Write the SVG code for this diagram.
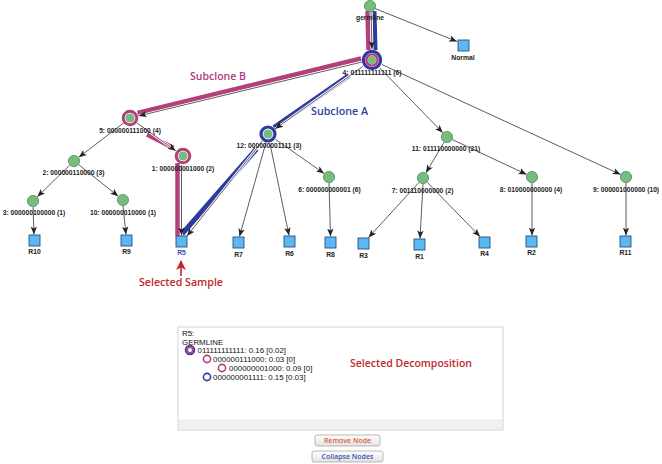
<svg xmlns="http://www.w3.org/2000/svg" width="662" height="464" viewBox="0 0 662 464">
<defs>
<marker id="arr" markerUnits="userSpaceOnUse" markerWidth="8" markerHeight="8" viewBox="0 0 8 8" refX="8" refY="4" orient="auto">
<path d="M0,0.8 L8,4 L0,7.2 L2,4 z" fill="#222"/>
</marker>
<marker id="redarr" markerUnits="userSpaceOnUse" markerWidth="10" markerHeight="10" viewBox="0 0 10 10" refX="9" refY="5" orient="auto">
<path d="M0,0 L10,5 L0,10 L2.5,5 z" fill="#c0282e"/>
</marker>
<linearGradient id="bg" x1="0" y1="0" x2="0" y2="1">
<stop offset="0" stop-color="#ffffff"/><stop offset="1" stop-color="#e2e2e2"/>
</linearGradient>
</defs>
<style>
.e{stroke:#333;stroke-width:0.8;fill:none;marker-end:url(#arr)}
.h{stroke:#fff;stroke-width:2.6;fill:none}
.bm{stroke:#b3407a;stroke-width:4.5;fill:none;stroke-linecap:butt}
.bb{stroke:#2e3a9e;stroke-width:5;fill:none;stroke-linecap:butt}
.n{fill:#74bd7e;stroke:#4f8d5a;stroke-width:0.8}
.s{fill:#5cb8f5;stroke:#2a4f78;stroke-width:0.9}
.lb{font-family:"Liberation Sans",Arial,sans-serif;font-weight:bold;font-size:6.7px;fill:#222;text-anchor:middle}
.sl{font-family:"Liberation Sans",Arial,sans-serif;font-weight:bold;font-size:6.8px;fill:#222;text-anchor:middle}
.rm{fill:none;stroke:#b3407a;stroke-width:3}
.rb{fill:none;stroke:#2e3a9e;stroke-width:3.2}
.pt{font-family:"Liberation Sans",Arial,sans-serif;font-size:7.9px;fill:#111}
.ann{font-family:"Open Sans","Liberation Sans",Arial,sans-serif;font-weight:600;font-size:11.5px}
.btn{fill:url(#bg);stroke:#a8a8a8;stroke-width:0.8}
.bt{font-family:"Open Sans","Liberation Sans",Arial,sans-serif;font-weight:600;font-size:7px;text-anchor:middle}
</style>

<g id="connectors">
<line class="bm" x1="367.5" y1="11" x2="368.5" y2="50"/>
<line class="bb" x1="374.5" y1="11" x2="375.5" y2="50" style="stroke-width:4"/>
<line class="bm" x1="361" y1="58.5" x2="137.5" y2="113"/>
<line class="bb" x1="349" y1="75.5" x2="274" y2="127.5"/>
<line class="bm" x1="147" y1="134.5" x2="173.5" y2="148"/>
<line class="bm" x1="177.5" y1="163" x2="177.5" y2="236"/>
<line class="bb" x1="256.5" y1="149" x2="182" y2="234"/>
<line class="h" x1="371" y1="12" x2="372" y2="49"/>
<line class="h" x1="362" y1="62" x2="138.7" y2="115.9"/>
<line class="h" x1="363" y1="66.4" x2="275.3" y2="128.8"/>
<line class="h" x1="136.5" y1="122.7" x2="175.7" y2="150.8"/>
<line class="h" x1="181.5" y1="165" x2="181.5" y2="235.5"/>
<line class="h" x1="262.4" y1="141" x2="187" y2="236"/>
<line class="e" x1="375" y1="8.5" x2="457" y2="41.5"/>
<line class="e" x1="371" y1="12" x2="372" y2="49"/>
<line class="e" x1="362" y1="62" x2="138.7" y2="115.9"/>
<line class="e" x1="363" y1="66.4" x2="275.3" y2="128.8"/>
<line class="e" x1="379.7" y1="67.9" x2="442.8" y2="132.7"/>
<line class="e" x1="382" y1="64.6" x2="620.6" y2="174.5"/>
<line class="e" x1="123.7" y1="122.9" x2="78.8" y2="157.3"/>
<line class="e" x1="136.5" y1="122.7" x2="175.7" y2="150.8"/>
<line class="e" x1="69.7" y1="165.2" x2="37.3" y2="196.8"/>
<line class="e" x1="78.7" y1="164.7" x2="118.3" y2="196.3"/>
<line class="e" x1="33" y1="207" x2="34" y2="234.5"/>
<line class="e" x1="123" y1="206" x2="126" y2="234.5"/>
<line class="e" x1="181.5" y1="165" x2="181.5" y2="235.5"/>
<line class="e" x1="262.4" y1="141" x2="187" y2="236"/>
<line class="e" x1="266.4" y1="141" x2="239.5" y2="236.5"/>
<line class="e" x1="269.8" y1="142.8" x2="289" y2="235.5"/>
<line class="e" x1="275.4" y1="139.2" x2="324.1" y2="173.5"/>
<line class="e" x1="329" y1="183" x2="330.5" y2="236.5"/>
<line class="e" x1="444" y1="142.2" x2="426" y2="172.8"/>
<line class="e" x1="452.4" y1="139.6" x2="526.6" y2="174.4"/>
<line class="e" x1="419" y1="182.4" x2="368.5" y2="237.5"/>
<line class="e" x1="423" y1="184" x2="420" y2="238.5"/>
<line class="e" x1="427.2" y1="182.3" x2="480" y2="236.5"/>
<line class="e" x1="532" y1="183" x2="532" y2="235.5"/>
<line class="e" x1="626" y1="183" x2="626" y2="235.5"/>
</g>

<g id="germline"><circle class="n" cx="370" cy="6" r="5.6"/><text class="lb" x="370" y="19.5">germline</text></g>
<g id="normal"><rect class="s" x="458" y="40" width="11" height="11"/><text class="sl" x="463" y="59.5">Normal</text></g>
<g id="node4"><circle class="rb" cx="372" cy="60" r="8.6"/><circle class="rm" cx="372" cy="60" r="5.6" style="stroke-width:2.4"/><circle class="n" cx="372" cy="60" r="4.2" style="stroke:none"/><text class="lb" x="372" y="74.5">4: 011111111111 (6)</text></g>
<g id="node5"><circle class="rm" cx="130" cy="118" r="6.8"/><circle class="n" cx="130" cy="118" r="4.6" style="stroke:none"/><text class="lb" x="130" y="133">5: 000000111000 (4)</text></g>
<g id="node1"><circle class="rm" cx="183" cy="156" r="6.8"/><circle class="n" cx="183" cy="156" r="4.6" style="stroke:none"/><text class="lb" x="183" y="170.5">1: 000000001000 (2)</text></g>
<g id="node12"><circle class="rb" cx="268" cy="134" r="7"/><circle class="n" cx="268" cy="134" r="4.6" style="stroke:none"/><text class="lb" x="269" y="148">12: 000000001111 (3)</text></g>
<g id="node2"><circle class="n" cx="74" cy="161" r="5.6"/><text class="lb" x="73.5" y="175">2: 000000110000 (3)</text></g>
<g id="node3"><circle class="n" cx="33" cy="201" r="5.6"/><text class="lb" x="34" y="215">3: 000000100000 (1)</text></g>
<g id="node10"><circle class="n" cx="123" cy="200" r="5.6"/><text class="lb" x="123" y="215">10: 000000010000 (1)</text></g>
<g id="node6"><circle class="n" cx="329" cy="177" r="5.6"/><text class="lb" x="329.5" y="191.5">6: 000000000001 (6)</text></g>
<g id="node11"><circle class="n" cx="447" cy="137" r="5.6"/><text class="lb" x="446" y="150.5">11: 011110000000 (21)</text></g>
<g id="node7"><circle class="n" cx="423" cy="178" r="5.6"/><text class="lb" x="422.5" y="192.5">7: 001110000000 (2)</text></g>
<g id="node8"><circle class="n" cx="532" cy="177" r="5.6"/><text class="lb" x="531" y="192">8: 010000000000 (4)</text></g>
<g id="node9"><circle class="n" cx="626" cy="177" r="5.6"/><text class="lb" x="626" y="192">9: 000001000000 (10)</text></g>

<g id="R10"><rect class="s" x="29" y="235" width="11" height="11"/><text class="sl" x="34.5" y="254">R10</text></g>
<g id="R9"><rect class="s" x="121" y="235" width="11" height="11"/><text class="sl" x="126.5" y="254">R9</text></g>
<g id="R5"><rect class="s" x="176" y="236" width="11" height="11"/><text class="sl" x="181.5" y="255" style="fill:#3a4ab8">R5</text></g>
<g id="R7"><rect class="s" x="233" y="237" width="11" height="11"/><text class="sl" x="238.5" y="257">R7</text></g>
<g id="R6"><rect class="s" x="284" y="236" width="11" height="11"/><text class="sl" x="289.5" y="256">R6</text></g>
<g id="R8"><rect class="s" x="325" y="237" width="11" height="11"/><text class="sl" x="330.5" y="257">R8</text></g>
<g id="R3"><rect class="s" x="358" y="238" width="11" height="11"/><text class="sl" x="363.5" y="258">R3</text></g>
<g id="R1"><rect class="s" x="414" y="239" width="11" height="11"/><text class="sl" x="419.5" y="258.5">R1</text></g>
<g id="R4"><rect class="s" x="479" y="237" width="11" height="11"/><text class="sl" x="484.5" y="256">R4</text></g>
<g id="R2"><rect class="s" x="526" y="236" width="11" height="11"/><text class="sl" x="531.5" y="255">R2</text></g>
<g id="R11"><rect class="s" x="620" y="236" width="11" height="11"/><text class="sl" x="625.5" y="255">R11</text></g>

<g id="annotations">
<text class="ann" x="190" y="80" style="fill:#b03a78" textLength="56" lengthAdjust="spacingAndGlyphs">Subclone B</text>
<text class="ann" x="311" y="115" style="fill:#2f40a0" textLength="57" lengthAdjust="spacingAndGlyphs">Subclone A</text>
<line x1="181" y1="276" x2="181" y2="261" stroke="#c0282e" stroke-width="1.6" marker-end="url(#redarr)"/>
<text class="ann" x="139" y="286" style="fill:#c0282e" textLength="84" lengthAdjust="spacingAndGlyphs">Selected Sample</text>
</g>

<g id="panel">
<rect x="178" y="327" width="325" height="103" fill="#fff" stroke="#c8c8c8" stroke-width="0.8"/>
<rect x="178.5" y="420" width="324" height="9.5" fill="#f1f1f1" stroke="#e0e0e0" stroke-width="0.5"/>
<text class="pt" x="182" y="336">R5:</text>
<text class="pt" x="182" y="344.5">GERMLINE</text>
<circle cx="190" cy="350" r="4.3" fill="none" stroke="#4a3aa0" stroke-width="2"/>
<circle cx="190" cy="350" r="2.6" fill="none" stroke="#b3407a" stroke-width="1.4"/>
<text class="pt" x="197.5" y="353">011111111111: 0.16 [0.02]</text>
<circle cx="207" cy="359" r="3.6" fill="none" stroke="#b3407a" stroke-width="1.6"/>
<text class="pt" x="213" y="362">000000111000: 0.03 [0]</text>
<circle cx="222" cy="368" r="3.6" fill="none" stroke="#b3407a" stroke-width="1.6"/>
<text class="pt" x="229" y="371">000000001000: 0.09 [0]</text>
<circle cx="207" cy="377" r="3.6" fill="none" stroke="#2e3a9e" stroke-width="1.6"/>
<text class="pt" x="213" y="380">000000001111: 0.15 [0.03]</text>
<text class="ann" x="350" y="367" style="fill:#c0282e" textLength="122" lengthAdjust="spacingAndGlyphs">Selected Decomposition</text>
</g>

<g id="remove-node-button">
<rect class="btn" x="315" y="435" width="65" height="11" rx="2"/>
<text class="bt" x="347.5" y="443.2" style="fill:#d8603a">Remove Node</text>
</g>
<g id="collapse-nodes-button">
<rect class="btn" x="312" y="451" width="71" height="11" rx="2"/>
<text class="bt" x="347.5" y="459.2" style="fill:#3f50b0">Collapse Nodes</text>
</g>
</svg>
